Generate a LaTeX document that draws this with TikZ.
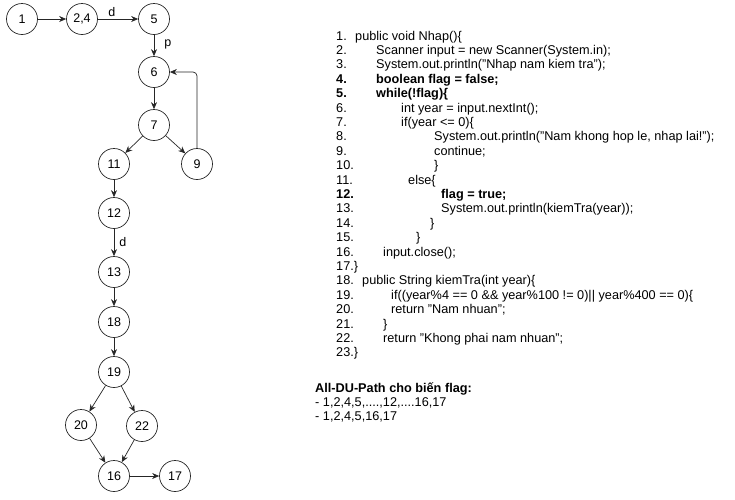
\documentclass[tikz,border=0pt]{standalone}
\usepackage{fontspec}
\setmainfont{Liberation Sans}
\usetikzlibrary{arrows.meta}
\begin{document}
\begin{tikzpicture}[x=1pt,y=-1pt,
  vtx/.style={circle,draw=black!85,line width=0.7pt,minimum size=31pt,inner sep=0pt,font=\fontsize{12.5}{14}\selectfont},
  edge/.style={draw=black!85,line width=0.7pt,-{Stealth[length=7pt,width=6pt]}},
  lbl/.style={font=\fontsize{12.5}{14}\selectfont,inner sep=0pt},
  code/.style={anchor=base west,inner sep=0pt,font=\fontsize{12.7}{14}\selectfont},
  num/.style={code},
  bcode/.style={code,font=\fontsize{12.7}{14}\selectfont\bfseries}]
\useasboundingbox (0,0) rectangle (735,499);

% control flow graph
\node[vtx] (n1)  at (22,19)  {1};
\node[vtx] (n24) at (82,19)  {2,4};
\node[vtx] (n5)  at (154,19) {5};
\node[vtx] (n6)  at (154,72) {6};
\node[vtx] (n7)  at (154,125) {7};
\node[vtx] (n11) at (114,164) {11};
\node[vtx] (n9)  at (197,164) {9};
\node[vtx] (n12) at (114,213) {12};
\node[vtx] (n13) at (114,272) {13};
\node[vtx] (n18) at (114,322) {18};
\node[vtx] (n19) at (114,372) {19};
\node[vtx] (n20) at (81,425) {20};
\node[vtx] (n22) at (142,426) {22};
\node[vtx] (n16) at (114,476) {16};
\node[vtx] (n17) at (175,476) {17};

\draw[edge] (n1) -- (n24);
\draw[edge] (n24) -- node[lbl,above=2pt,pos=0.35] {d} (n5);
\draw[edge] (n5) -- node[lbl,right=10pt,pos=0.45] {p} (n6);
\draw[edge] (n6) -- (n7);
\draw[edge] (n7) -- (n11);
\draw[edge] (n7) -- (n9);
\draw[edge,rounded corners=4pt] (n9.north) |- (n6.east);
\draw[edge] (n11) -- (n12);
\draw[edge] (n12) -- node[lbl,right=5pt,pos=0.5] {d} (n13);
\draw[edge] (n13) -- (n18);
\draw[edge] (n18) -- (n19);
\draw[edge] (n19) -- (n20);
\draw[edge] (n19) -- (n22);
\draw[edge] (n20) -- (n16);
\draw[edge] (n22) -- (n16);
\draw[edge] (n16) -- (n17);

% source listing
\node[num] (c1n) at (336,40) {1.};
\node[code] (c1) at (355,40) {public void Nhap()\{};
\node[num] (c2n) at (336,54.4) {2.};
\node[code] (c2) at (376,54.4) {Scanner input = new Scanner(System.in);};
\node[num] (c3n) at (336,68.8) {3.};
\node[code] (c3) at (376,68.8) {System.out.println("Nhap nam kiem tra");};
\node[bcode] (c4n) at (336,83.2) {4.};
\node[bcode] (c4) at (376,83.2) {boolean flag = false;};
\node[bcode] (c5n) at (336,97.6) {5.};
\node[bcode] (c5) at (376,97.6) {while(!flag)\{};
\node[num] (c6n) at (336,112) {6.};
\node[code] (c6) at (401,112) {int year = input.nextInt();};
\node[num] (c7n) at (336,126.4) {7.};
\node[code] (c7) at (401,126.4) {if(year <= 0)\{};
\node[num] (c8n) at (336,140.8) {8.};
\node[code] (c8) at (434,140.8) {System.out.println("Nam khong hop le, nhap lai!");};
\node[num] (c9n) at (336,155.2) {9.};
\node[code] (c9) at (434,155.2) {continue;};
\node[num] (c10n) at (336,169.6) {10.};
\node[code] (c10) at (434,169.6) {\}};
\node[num] (c11n) at (336,184) {11.};
\node[code] (c11) at (408,184) {else\{};
\node[bcode] (c12n) at (336,198.4) {12.};
\node[bcode] (c12) at (441,198.4) {flag = true;};
\node[num] (c13n) at (336,212.8) {13.};
\node[code] (c13) at (441,212.8) {System.out.println(kiemTra(year));};
\node[num] (c14n) at (336,227.2) {14.};
\node[code] (c14) at (430,227.2) {\}};
\node[num] (c15n) at (336,241.6) {15.};
\node[code] (c15) at (416,241.6) {\}};
\node[num] (c16n) at (336,256) {16.};
\node[code] (c16) at (383,256) {input.close();};
\node[num] (c17n) at (336,270.4) {17.\}};
\node[num] (c18n) at (336,284.8) {18.};
\node[code] (c18) at (362,284.8) {public String kiemTra(int year)\{};
\node[num] (c19n) at (336,299.2) {19.};
\node[code] (c19) at (391,299.2) {if((year\%4 == 0 \&\& year\%100 != 0)|| year\%400 == 0)\{};
\node[num] (c20n) at (336,313.6) {20.};
\node[code] (c20) at (391,313.6) {return "Nam nhuan";};
\node[num] (c21n) at (336,328) {21.};
\node[code] (c21) at (383,328) {\}};
\node[num] (c22n) at (336,342.4) {22.};
\node[code] (c22) at (383,342.4) {return "Khong phai nam nhuan";};
\node[num] (c23n) at (336,356.8) {23.\}};

% du-path summary
\node[bcode] (s0) at (315,392) {All-DU-Path cho biến flag:};
\node[code] (s1) at (315,406.5) {- 1,2,4,5,....,12,....16,17};
\node[code] (s2) at (315,420) {- 1,2,4,5,16,17};
\end{tikzpicture}
\end{document}
